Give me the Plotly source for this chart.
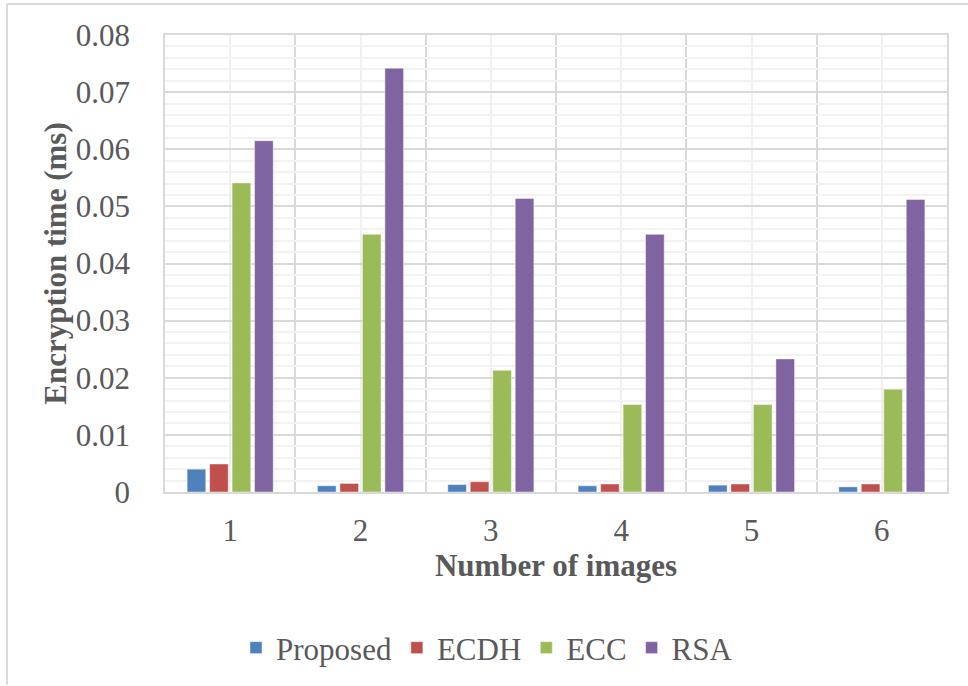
import plotly.graph_objects as go

# Encryption time (ms) per number of images, for each scheme
images = [1, 2, 3, 4, 5, 6]
image_labels = ["1", "2", "3", "4", "5", "6"]
proposed = [0.0040, 0.0011, 0.0013, 0.0011, 0.0012, 0.0009]
ecdh = [0.0049, 0.0015, 0.0018, 0.0014, 0.0014, 0.0014]
ecc = [0.0541, 0.0451, 0.0213, 0.0153, 0.0153, 0.0180]
rsa = [0.0615, 0.0742, 0.0514, 0.0451, 0.0233, 0.0512]

y_ticks = [0, 0.01, 0.02, 0.03, 0.04, 0.05, 0.06, 0.07, 0.08]
y_tick_labels = ["0", "0.01", "0.02", "0.03", "0.04", "0.05", "0.06", "0.07", "0.08"]

series = [
    ("Proposed", proposed, "#4F81BD"),
    ("ECDH", ecdh, "#C0504D"),
    ("ECC", ecc, "#9BBB59"),
    ("RSA", rsa, "#8064A2"),
]

FONT = "Liberation Serif"
TEXT = "#595959"

fig = go.Figure()
for name, vals, color in series:
    fig.add_trace(go.Bar(
        x=images, y=vals, name=name,
        marker=dict(color=color, line=dict(color="rgba(255,255,255,0.45)", width=1)),
    ))

W, H = 968, 686
L, R, T, B = 165, 21, 35, 193
pw, ph = W - L - R, H - T - B

fig.update_layout(
    width=W, height=H,
    margin=dict(l=L, r=R, t=T, b=B),
    paper_bgcolor="white", plot_bgcolor="white",
    barmode="group", bargap=0.31, bargroupgap=0.17,
    font=dict(family=FONT, size=31, color=TEXT),
    showlegend=True,
    legend=dict(
        orientation="h", x=(487 - L) / pw, xanchor="center",
        y=(H - B - 648) / ph, yanchor="middle",
        font=dict(family=FONT, size=31, color=TEXT),
        bgcolor="rgba(0,0,0,0)", itemclick=False,
    ),
    xaxis=dict(
        range=[0.5, 6.5], tickmode="array", tickvals=images, ticktext=image_labels,
        showgrid=True, gridcolor="#F0F0F0", gridwidth=1.5,
        minor=dict(tickmode="array", tickvals=[i + 0.5 for i in range(0, 7)],
                   showgrid=True, gridcolor="#D9D9D9", gridwidth=1.5),
        showline=True, mirror=True, linecolor="#D9D9D9", linewidth=1.5,
        ticks="", ticklabelstandoff=10, zeroline=False, automargin=False,
        title=dict(text="<b>Number of images</b>", standoff=6,
                   font=dict(family=FONT, size=31, color=TEXT)),
        tickfont=dict(family=FONT, size=31, color=TEXT),
    ),
    yaxis=dict(
        range=[0, 0.08], tickmode="array", tickvals=y_ticks, ticktext=y_tick_labels,
        showgrid=True, gridcolor="#D9D9D9", gridwidth=1.5,
        minor=dict(tickmode="linear", tick0=0, dtick=0.002, showgrid=True,
                   gridcolor="#F2F2F2", gridwidth=1.5),
        showline=True, mirror=True, linecolor="#D9D9D9", linewidth=1.5,
        ticks="", ticklabelstandoff=27, zeroline=False, automargin=False,
        title=dict(text="<b>Encryption time (ms)</b>", standoff=0,
                   font=dict(family=FONT, size=31, color=TEXT)),
        tickfont=dict(family=FONT, size=31, color=TEXT),
    ),
    shapes=[
        dict(type="line", xref="paper", yref="paper",
             x0=(7 - L) / pw, x1=(W - L) / pw, y0=(H - B - 4) / ph, y1=(H - B - 4) / ph,
             line=dict(color="#D9D9D9", width=2)),
        dict(type="line", xref="paper", yref="paper",
             x0=(7 - L) / pw, x1=(7 - L) / pw, y0=(H - B - 4) / ph, y1=-B / ph,
             line=dict(color="#D9D9D9", width=2)),
    ],
)

fig.write_html("out.html")
